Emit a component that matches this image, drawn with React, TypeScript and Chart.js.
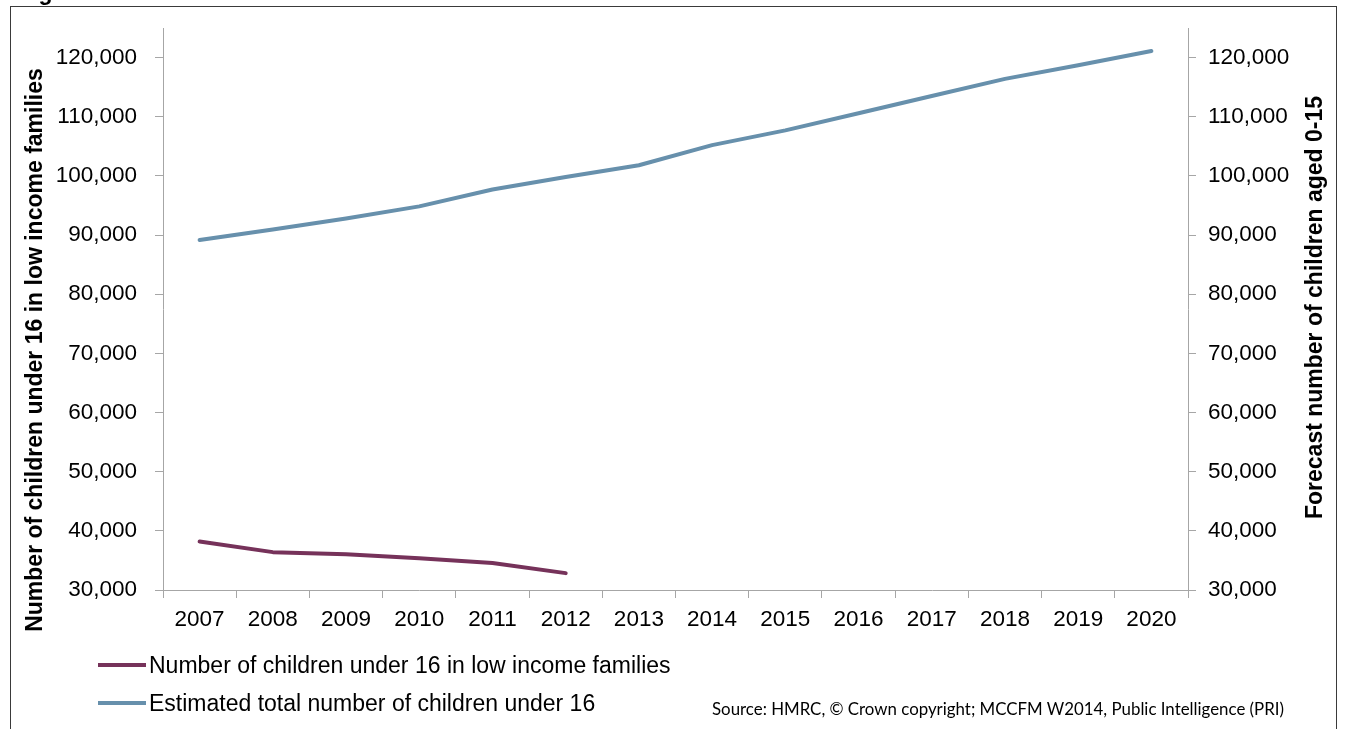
import React, { useEffect, useRef } from 'react';
import { Chart, registerables } from 'chart.js';

Chart.register(...registerables);

// Years on the category axis
const years = ['2007', '2008', '2009', '2010', '2011', '2012', '2013', '2014', '2015', '2016', '2017', '2018', '2019', '2020'];

// Children under 16 in low income families (HMRC, 2007-2012)
const lowIncomeChildren = [38200, 36400, 36050, 35350, 34550, 32850];

// Estimated / forecast total number of children under 16
const totalChildren = [89150, 90950, 92800, 94850, 97700, 99800, 101800, 105200, 107700, 110600, 113500, 116400, 118700, 121100];

// Labelled values on both value axes
const valueTicks = [30000, 40000, 50000, 60000, 70000, 80000, 90000, 100000, 110000, 120000];

const seriesNames = [
  'Number of children under 16 in low income families',
  'Estimated total number of children under 16',
];
const seriesColors = ['#76325A', '#6790AC'];

const axisMin = 30000;
const axisMax = 125000;

const leftAxisTitle = 'Number of children under 16 in low income families';
const rightAxisTitle = 'Forecast number of children aged 0-15';
const sourceNote = 'Source: HMRC, \u00A9 Crown copyright; MCCFM W2014, Public Intelligence (PRI)';
const figureHeading = 'Figure';

const W = 1345;
const H = 729;
const axisFont = 'Liberation Sans, Arial, sans-serif';
const axisGrey = '#a6a6a6';

const formatThousands = (v: number | string) => Number(v).toLocaleString('en-US');

function yAxis(position: 'left' | 'right', width: number, padding: number) {
  return {
    type: 'linear' as const,
    position,
    min: axisMin,
    max: axisMax,
    afterBuildTicks: (scale: any) => {
      scale.ticks = valueTicks.map((value) => ({ value }));
    },
    afterFit: (scale: any) => {
      // fixed gutter width; the plot area edges come from the layout padding only
      scale.width = width;
      scale.paddingTop = 0;
      scale.paddingBottom = 0;
    },
    ticks: {
      padding,
      color: '#000',
      font: { family: axisFont, size: 22.5 },
      callback: (v: number | string) => formatThousands(v),
    },
    grid: {
      drawOnChartArea: false,
      drawTicks: true,
      tickLength: 8,
      color: axisGrey,
      lineWidth: 1,
    },
    border: { display: true, color: axisGrey, width: 1 },
  };
}

export default function App() {
  const canvasRef = useRef<HTMLCanvasElement | null>(null);

  useEffect(() => {
    const canvas = canvasRef.current;
    if (!canvas) return;
    const chart = new Chart(canvas, {
      type: 'line',
      data: {
        labels: years,
        datasets: [
          {
            label: seriesNames[0],
            data: lowIncomeChildren,
            yAxisID: 'yLeft',
            borderColor: seriesColors[0],
            backgroundColor: seriesColors[0],
            borderWidth: 4,
            pointRadius: 0,
            tension: 0,
            borderCapStyle: 'round',
            borderJoinStyle: 'round',
          },
          {
            label: seriesNames[1],
            data: totalChildren,
            yAxisID: 'yRight',
            borderColor: seriesColors[1],
            backgroundColor: seriesColors[1],
            borderWidth: 4,
            pointRadius: 0,
            tension: 0,
            borderCapStyle: 'round',
            borderJoinStyle: 'round',
          },
        ],
      },
      options: {
        responsive: false,
        animation: false,
        events: [],
        layout: { padding: { top: 28, left: 0, right: 0, bottom: 0 } },
        plugins: {
          legend: { display: false },
          tooltip: { enabled: false },
          title: { display: false },
        },
        scales: {
          x: {
            type: 'category',
            offset: true,
            afterFit: (scale: any) => {
              scale.height = 139;
            },
            ticks: {
              autoSkip: false,
              maxRotation: 0,
              padding: 8,
              color: '#000',
              font: { family: axisFont, size: 22.5 },
            },
            grid: {
              offset: true,
              drawOnChartArea: false,
              drawTicks: true,
              tickLength: 8,
              color: axisGrey,
              lineWidth: 1,
            },
            border: { display: true, color: axisGrey, width: 1 },
          },
          yLeft: yAxis('left', 163, 18),
          yRight: yAxis('right', W - 1188, 12),
        },
      },
    });
    return () => chart.destroy();
  }, []);

  return (
    <div
      style={{
        position: 'fixed',
        left: 0,
        top: 0,
        width: W,
        height: H,
        background: '#fff',
        overflow: 'hidden',
      }}
    >
      <canvas ref={canvasRef} width={W} height={H} style={{ position: 'absolute', left: 0, top: 0 }} />
      <svg
        width={W}
        height={H}
        style={{ position: 'absolute', left: 0, top: 0, pointerEvents: 'none' }}
      >
        {/* frame around the figure */}
        <rect x={10.5} y={6.5} width={1326} height={H + 20} fill="none" stroke="#3a3a3a" strokeWidth={1} />
        {/* heading sits above the frame; only its descender reaches the page */}
        <text x={18} y={0} fontFamily={axisFont} fontWeight="bold" fontSize={23} fill="#000">
          {figureHeading}
        </text>

        {/* axis titles */}
        <text
          transform="translate(42, 350) rotate(-90)"
          textAnchor="middle"
          fontFamily={axisFont}
          fontWeight="bold"
          fontSize={23}
          fill="#000"
        >
          {leftAxisTitle}
        </text>
        <text
          transform="translate(1322, 307.5) rotate(-90)"
          textAnchor="middle"
          fontFamily={axisFont}
          fontWeight="bold"
          fontSize={23}
          fill="#000"
        >
          {rightAxisTitle}
        </text>

        {/* legend */}
        {seriesNames.map((name, i) => {
          const cy = 665 + i * 38;
          return (
            <g key={name}>
              <line x1={98} x2={146} y1={cy} y2={cy} stroke={seriesColors[i]} strokeWidth={4} />
              <text x={149} y={cy + 8.2} fontFamily={axisFont} fontSize={23} fill="#000">
                {name}
              </text>
            </g>
          );
        })}

        {/* source note */}
        <text
          x={712}
          y={714.5}
          fontFamily="Lato, 'Open Sans', sans-serif"
          fontSize={17}
          fill="#000"
          textLength={572}
          lengthAdjust="spacingAndGlyphs"
        >
          {sourceNote}
        </text>
      </svg>
    </div>
  );
}
